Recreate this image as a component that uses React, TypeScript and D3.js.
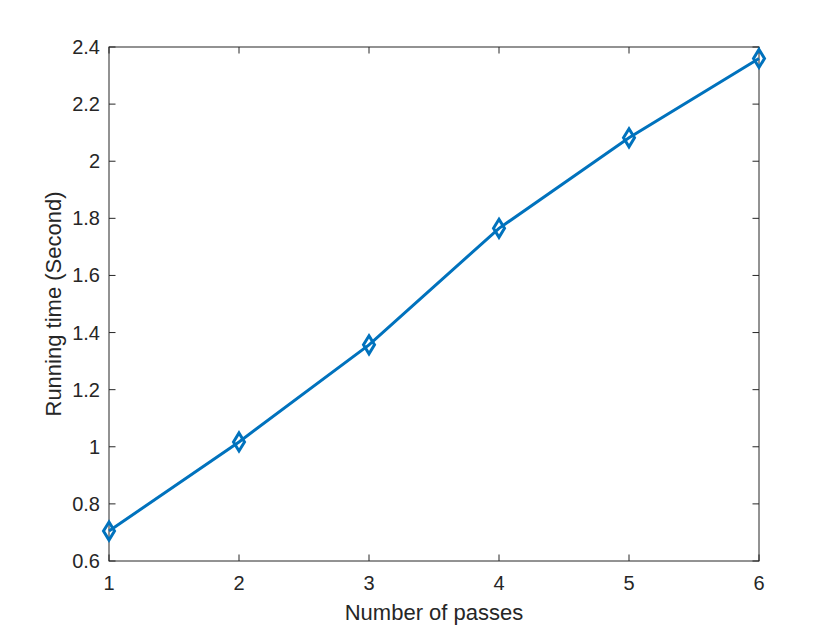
import React from "react";
import * as d3 from "d3";

const passes = [1, 2, 3, 4, 5, 6];
const runningTime = [0.705, 1.017, 1.357, 1.765, 2.082, 2.36];
const xTicks = [1, 2, 3, 4, 5, 6];
const yTicks = [0.6, 0.8, 1, 1.2, 1.4, 1.6, 1.8, 2, 2.2, 2.4];

const W = 840, H = 630;
const L = 109, R = 759, T = 47, B = 561;

export default function App() {
  const x = d3.scaleLinear().domain([1, 6]).range([L, R]);
  const y = d3.scaleLinear().domain([0.6, 2.4]).range([B, T]);
  const line = d3.line<number>().x((_, i) => x(passes[i])).y((d) => y(d));
  const axisColor = "#262626";
  const font = "'Liberation Sans', Arial, sans-serif";
  const tl = 6.5;
  const dh = 9;
  const dw = 5.5;
  return (
    <svg width={W} height={H} style={{ position: "absolute", left: 0, top: 0, background: "#fff" }}>
      <rect x={0} y={0} width={W} height={H} fill="#fff" />
      <g stroke={axisColor} strokeWidth={1} fill="none">
        <rect x={L} y={T} width={R - L} height={B - T} />
        {xTicks.map((t) => (
          <g key={"x" + t}>
            <line x1={x(t)} x2={x(t)} y1={B} y2={B - tl} />
            <line x1={x(t)} x2={x(t)} y1={T} y2={T + tl} />
          </g>
        ))}
        {yTicks.map((t) => (
          <g key={"y" + t}>
            <line x1={L} x2={L + tl} y1={y(t)} y2={y(t)} />
            <line x1={R} x2={R - tl} y1={y(t)} y2={y(t)} />
          </g>
        ))}
      </g>
      <g fill={axisColor} fontFamily={font}>
        {xTicks.map((t) => (
          <text key={"xl" + t} x={x(t)} y={B + 29} textAnchor="middle" fontSize={20}>{t}</text>
        ))}
        {yTicks.map((t) => (
          <text key={"yl" + t} x={L - 9} y={y(t) + 7} textAnchor="end" fontSize={20}>{String(t)}</text>
        ))}
        <text x={(L + R) / 2} y={620} textAnchor="middle" fontSize={22}>Number of passes</text>
        <text transform={`translate(61,${(T + B) / 2}) rotate(-90)`} textAnchor="middle" fontSize={22}>Running time (Second)</text>
      </g>
      <path d={line(runningTime) || ""} fill="none" stroke="#0072BD" strokeWidth={3} />
      {runningTime.map((v, i) => {
        const cx = x(passes[i]), cy = y(v);
        return (
          <path key={"m" + i}
            d={`M${cx},${cy - dh}L${cx + dw},${cy}L${cx},${cy + dh}L${cx - dw},${cy}Z`}
            fill="none" stroke="#0072BD" strokeWidth={3} />
        );
      })}
    </svg>
  );
}
